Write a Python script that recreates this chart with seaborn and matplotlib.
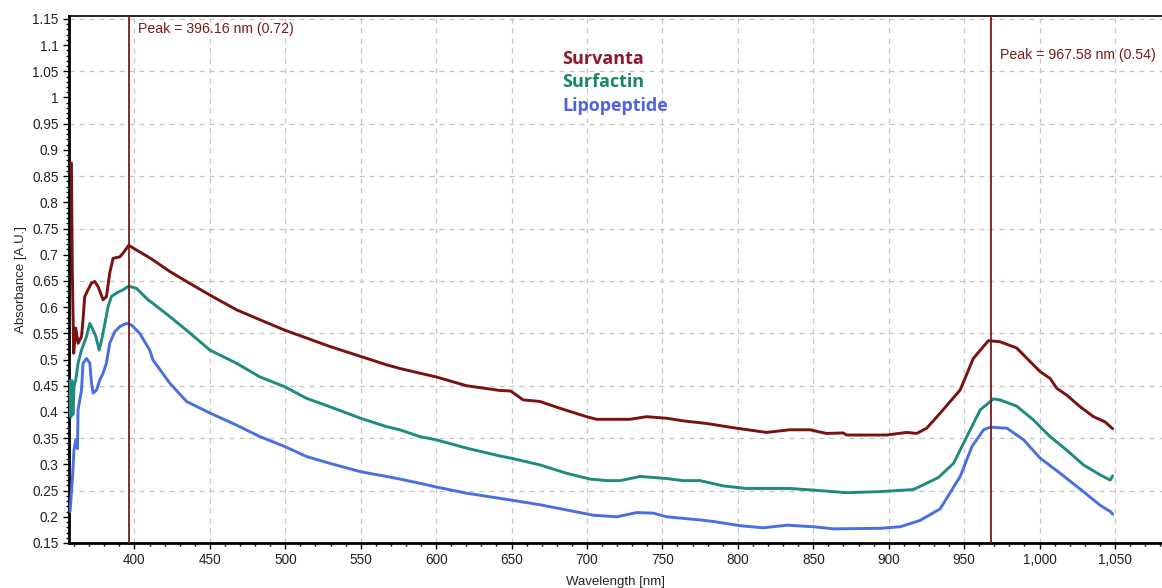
import numpy as np
import pandas as pd
import matplotlib
matplotlib.use("Agg")
import matplotlib.pyplot as plt
from matplotlib.ticker import MultipleLocator, FuncFormatter
import seaborn as sns

# ---------------- data ----------------
survanta_nm = [357.0, 358.2, 358.8, 359.7, 361.1, 362.6, 364.9, 365.9, 367.0, 369.2, 371.5, 373.7,
               375.9, 379.2, 381.4, 383.6, 385.8, 390.3, 392.4, 396.2, 401.3, 409.0, 412.3, 423.4,
               434.5, 450.0, 467.6, 483.1, 499.7, 514.1, 529.5, 549.9, 567.1, 575.9, 589.2, 599.8,
               620.2, 642.3, 649.4, 657.7, 668.8, 682.1, 699.7, 706.4, 728.5, 739.5, 752.8, 763.8,
               779.2, 799.1, 819.0, 834.4, 847.8, 858.8, 869.9, 872.1, 898.7, 911.9, 918.6, 925.2,
               933.0, 947.4, 956.1, 966.1, 973.8, 984.9, 995.9, 1000.4, 1007.0, 1011.5, 1018.1,
               1026.9, 1035.8, 1043.5, 1046.9, 1048.5]
survanta_abs = [0.875, 0.875, 0.670, 0.512, 0.560, 0.531, 0.544, 0.576, 0.620, 0.633, 0.646, 0.649,
                0.639, 0.614, 0.620, 0.665, 0.693, 0.696, 0.703, 0.718, 0.709, 0.696, 0.690, 0.668,
                0.649, 0.623, 0.595, 0.576, 0.556, 0.541, 0.525, 0.506, 0.490, 0.483, 0.474, 0.467,
                0.450, 0.441, 0.440, 0.423, 0.420, 0.407, 0.391, 0.386, 0.386, 0.391, 0.388, 0.383,
                0.378, 0.369, 0.361, 0.366, 0.366, 0.359, 0.360, 0.356, 0.356, 0.361, 0.359, 0.369,
                0.394, 0.442, 0.502, 0.536, 0.534, 0.522, 0.490, 0.477, 0.464, 0.445, 0.432,
                0.410, 0.391, 0.381, 0.372, 0.368]

surfactin_nm = [357.0, 357.8, 358.5, 359.2, 360.0, 361.1, 362.6, 364.9, 368.2, 370.4, 372.6, 374.4,
                376.6, 378.2, 380.4, 382.5, 384.7, 388.1, 392.4, 396.2, 401.3, 409.0, 412.3, 423.4,
                434.5, 450.0, 467.6, 483.1, 499.7, 514.1, 529.5, 549.9, 567.1, 575.9, 589.2, 599.8,
                620.2, 642.3, 649.4, 668.8, 686.5, 702.0, 713.1, 722.0, 735.3, 752.8, 763.8, 775.0,
                790.2, 805.7, 834.4, 849.9, 872.1, 894.2, 916.3, 925.2, 933.0, 943.0, 951.8, 960.7,
                969.5, 973.8, 984.9, 995.9, 1007.0, 1018.1, 1029.1, 1040.2, 1046.9, 1048.5]
surfactin_abs = [0.460, 0.390, 0.460, 0.395, 0.450, 0.461, 0.493, 0.518, 0.544, 0.569, 0.556, 0.544,
                 0.518, 0.537, 0.569, 0.601, 0.620, 0.627, 0.633, 0.640, 0.636, 0.614, 0.607, 0.582,
                 0.556, 0.518, 0.493, 0.467, 0.448, 0.426, 0.410, 0.388, 0.372, 0.366, 0.353, 0.347,
                 0.331, 0.316, 0.312, 0.299, 0.283, 0.272, 0.269, 0.269, 0.277, 0.273, 0.269, 0.269,
                 0.259, 0.254, 0.254, 0.251, 0.246, 0.248, 0.252, 0.264, 0.275, 0.302, 0.353, 0.404,
                 0.425, 0.423, 0.411, 0.385, 0.353, 0.327, 0.299, 0.280, 0.270, 0.278]

lipopeptide_nm = [357.3, 358.8, 359.9, 361.1, 362.2, 362.6, 364.9, 365.9, 368.2, 370.4, 371.5, 372.6,
                  374.9, 377.0, 379.2, 381.4, 383.6, 386.9, 390.3, 394.7, 398.0, 403.5, 410.1, 412.3,
                  423.4, 434.5, 450.0, 467.6, 483.1, 499.7, 514.1, 529.5, 549.9, 567.1, 575.9, 589.2,
                  599.8, 620.2, 649.4, 668.8, 695.4, 704.2, 719.7, 733.0, 744.0, 752.8, 775.0, 783.9,
                  801.5, 817.0, 832.5, 850.1, 863.4, 894.2, 907.6, 920.8, 934.1, 947.4, 955.2, 962.9,
                  967.3, 978.4, 989.4, 1000.4, 1013.7, 1029.1, 1040.2, 1046.9, 1048.5]
lipopeptide_abs = [0.210, 0.270, 0.327, 0.347, 0.330, 0.404, 0.442, 0.493, 0.502, 0.493, 0.455, 0.436,
                   0.442, 0.461, 0.474, 0.493, 0.531, 0.553, 0.563, 0.569, 0.566, 0.550, 0.518, 0.499,
                   0.455, 0.420, 0.398, 0.375, 0.353, 0.334, 0.315, 0.302, 0.286, 0.277, 0.272, 0.264,
                   0.257, 0.245, 0.232, 0.223, 0.208, 0.203, 0.200, 0.208, 0.207, 0.200, 0.194, 0.191,
                   0.183, 0.179, 0.184, 0.181, 0.177, 0.178, 0.181, 0.193, 0.215, 0.277, 0.334, 0.366,
                   0.371, 0.369, 0.347, 0.312, 0.283, 0.248, 0.222, 0.210, 0.205]

series_names = ["Survanta", "Surfactin", "Lipopeptide"]
peak_nm = [396.16, 967.58]
peak_abs = [0.72, 0.54]
x_ticks = [400, 450, 500, 550, 600, 650, 700, 750, 800, 850, 900, 950, 1000, 1050]

# ---------------- styling ----------------
line_colors = {"Survanta": "#7a1212", "Surfactin": "#1f8a7e", "Lipopeptide": "#4a6fe3"}
label_colors = {"Survanta": "#8c1a2c", "Surfactin": "#17875f", "Lipopeptide": "#4f63e0"}
peak_color = "#7a1a1a"

df = pd.concat([
    pd.DataFrame({"nm": survanta_nm, "abs": survanta_abs, "sample": "Survanta"}),
    pd.DataFrame({"nm": surfactin_nm, "abs": surfactin_abs, "sample": "Surfactin"}),
    pd.DataFrame({"nm": lipopeptide_nm, "abs": lipopeptide_abs, "sample": "Lipopeptide"}),
], ignore_index=True)

sns.set_style("white")
plt.rcParams["font.family"] = ["Liberation Sans", "DejaVu Sans"]

fig = plt.figure(figsize=(11.62, 5.88), dpi=100)
ax = fig.add_axes([69 / 1162, 1 - 543 / 588, 1 - 69 / 1162, (543 - 15.7) / 588])

# grid
for xv in x_ticks:
    ax.axvline(xv, color="#c4c4c4", lw=0.9, ls=(0, (4, 4)), zorder=0)
for yv in np.arange(0.15, 1.16, 0.1):
    ax.axhline(yv, color="#c4c4c4", lw=0.9, ls=(0, (4, 4)), zorder=0)

sns.lineplot(data=df, x="nm", y="abs", hue="sample", palette=line_colors, hue_order=series_names,
             estimator=None, sort=False, lw=2.1, legend=False, ax=ax, zorder=3)

# peak markers
for pn, pa in zip(peak_nm, peak_abs):
    ax.axvline(pn, color=peak_color, lw=1.3, zorder=4)
ax.text(peak_nm[0] + 6, 1.13, f"Peak = {peak_nm[0]:.2f} nm ({peak_abs[0]:.2f})",
        color=peak_color, fontsize=10.2, va="center", ha="left")
ax.text(peak_nm[1] + 6, 1.081, f"Peak = {peak_nm[1]:.2f} nm ({peak_abs[1]:.2f})",
        color=peak_color, fontsize=10.2, va="center", ha="left")

# text legend
for i, name in enumerate(series_names):
    ax.text(0.4511, 0.9185 - i * 0.0445, name, transform=ax.transAxes, color=label_colors[name],
            fontsize=13, fontweight="bold", family=["Open Sans", "DejaVu Sans"], va="center", ha="left")

ax.set_xlim(356.6, 1081.2)
ax.set_ylim(0.15, 1.156)
ax.xaxis.set_major_locator(MultipleLocator(50))
ax.xaxis.set_minor_locator(MultipleLocator(10))
ax.yaxis.set_major_locator(MultipleLocator(0.05))
ax.yaxis.set_minor_locator(MultipleLocator(0.01))
ax.xaxis.set_major_formatter(FuncFormatter(lambda v, p: f"{v:,.0f}"))
ax.yaxis.set_major_formatter(FuncFormatter(lambda v, p: f"{round(v, 2):g}"))
ax.tick_params(axis="both", which="major", direction="out", length=4, width=1, labelsize=9.8,
               colors="black", labelcolor="#222222")
ax.tick_params(axis="both", which="minor", direction="out", length=2, width=1, colors="black")
ax.tick_params(axis="x", which="both", bottom=True)
ax.tick_params(axis="y", which="both", left=True)

ax.set_xlabel("Wavelength [nm]", fontsize=9.5, labelpad=6)
ax.set_ylabel("Absorbance [A.U.]", fontsize=9.5, labelpad=4)

for s in ["left", "bottom"]:
    ax.spines[s].set_color("black")
    ax.spines[s].set_linewidth(2)
ax.spines["top"].set_color("black")
ax.spines["top"].set_linewidth(1.2)
ax.spines["right"].set_visible(False)

fig.savefig("out.png", dpi=100)
